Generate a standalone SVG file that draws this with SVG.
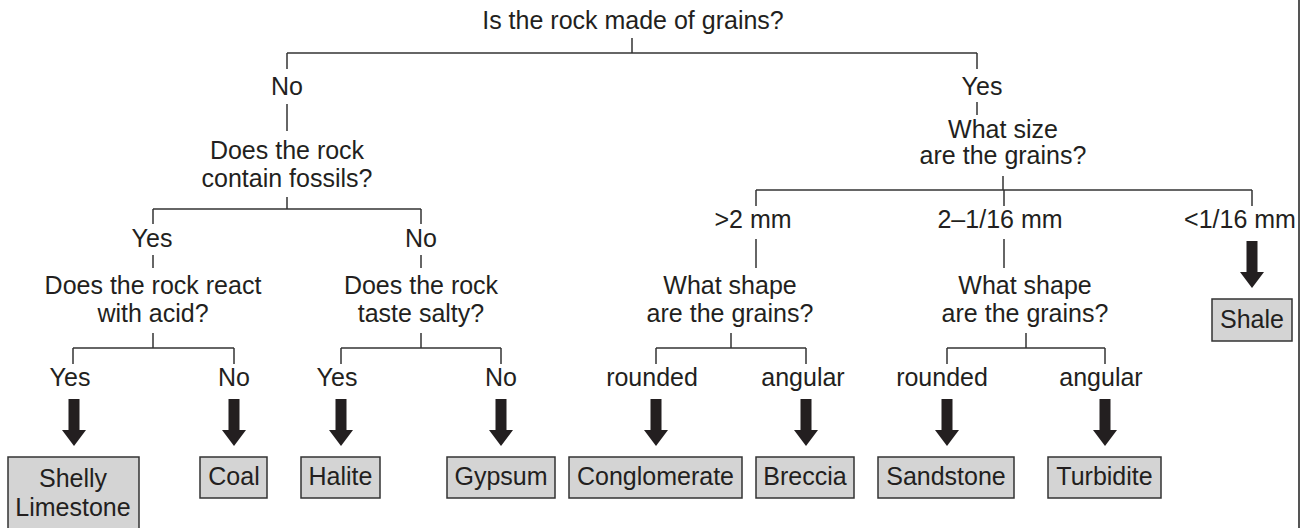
<svg xmlns="http://www.w3.org/2000/svg" width="1306" height="528" viewBox="0 0 1306 528">
<style>
text{font-family:"Liberation Sans",Arial,sans-serif;font-size:25px;fill:#231f20;text-anchor:middle}
.c line{stroke:#333;stroke-width:1.5;fill:none}
.box{fill:#d4d4d4;stroke:#333;stroke-width:1.5}
.arr{fill:#231f20}
</style>
<defs>
<path id="a" d="M-5.5,0 H5.5 V31 H12 L0,47 L-12,31 H-5.5 Z"/>
</defs>
<rect width="1306" height="528" fill="#fff"/>
<line x1="1299" y1="0" x2="1299" y2="528" stroke="#555" stroke-width="2"/>
<g id="connectors" class="c">
<line x1="632" y1="38" x2="632" y2="53"/>
<line x1="287" y1="53" x2="977" y2="53"/>
<line x1="287" y1="53" x2="287" y2="69"/>
<line x1="977" y1="53" x2="977" y2="69"/>
<line x1="287" y1="104" x2="287" y2="131"/>
<line x1="287" y1="197" x2="287" y2="209"/>
<line x1="153" y1="209" x2="421" y2="209"/>
<line x1="153" y1="209" x2="153" y2="224"/>
<line x1="421" y1="209" x2="421" y2="224"/>
<line x1="153" y1="255" x2="153" y2="268"/>
<line x1="421" y1="255" x2="421" y2="268"/>
<line x1="153" y1="333" x2="153" y2="348"/>
<line x1="421" y1="333" x2="421" y2="348"/>
<line x1="73" y1="348" x2="234" y2="348"/>
<line x1="341" y1="348" x2="501" y2="348"/>
<line x1="73" y1="348" x2="73" y2="364"/>
<line x1="234" y1="348" x2="234" y2="364"/>
<line x1="341" y1="348" x2="341" y2="364"/>
<line x1="501" y1="348" x2="501" y2="364"/>
<line x1="977" y1="102" x2="977" y2="115"/>
<line x1="1003" y1="176" x2="1003" y2="190"/>
<line x1="756" y1="190" x2="1252" y2="190"/>
<line x1="756" y1="190" x2="756" y2="206"/>
<line x1="1004" y1="190" x2="1004" y2="206"/>
<line x1="1252" y1="190" x2="1252" y2="206"/>
<line x1="756" y1="239" x2="756" y2="268"/>
<line x1="1004" y1="239" x2="1004" y2="268"/>
<line x1="731" y1="333" x2="731" y2="348"/>
<line x1="1026" y1="333" x2="1026" y2="348"/>
<line x1="656" y1="348" x2="806" y2="348"/>
<line x1="947" y1="348" x2="1105" y2="348"/>
<line x1="656" y1="348" x2="656" y2="364"/>
<line x1="806" y1="348" x2="806" y2="364"/>
<line x1="947" y1="348" x2="947" y2="364"/>
<line x1="1105" y1="348" x2="1105" y2="364"/>
<g class="arr">
<use href="#a" x="74" y="399"/>
<use href="#a" x="234" y="399"/>
<use href="#a" x="341" y="399"/>
<use href="#a" x="501" y="399"/>
<use href="#a" x="656" y="399"/>
<use href="#a" x="806" y="399"/>
<use href="#a" x="947" y="399"/>
<use href="#a" x="1105" y="399"/>
<use href="#a" x="1252" y="241"/>
</g>
</g>
<g id="q-grains"><text x="633" y="29">Is the rock made of grains?</text></g>
<g id="l-no"><text x="287" y="95">No</text></g>
<g id="l-yes"><text x="982" y="95">Yes</text></g>
<g id="q-fossils"><text x="287" y="159">Does the rock</text><text x="287" y="187">contain fossils?</text></g>
<g id="q-size"><text x="1003" y="138">What size</text><text x="1003" y="164">are the grains?</text></g>
<g id="l-fyes"><text x="152" y="247">Yes</text></g>
<g id="l-fno"><text x="421" y="247">No</text></g>
<g id="q-acid"><text x="153" y="294">Does the rock react</text><text x="153" y="322">with acid?</text></g>
<g id="q-salty"><text x="421" y="294">Does the rock</text><text x="421" y="322">taste salty?</text></g>
<g id="l-gt2"><text x="753" y="228">&gt;2 mm</text></g>
<g id="l-mid"><text x="1000" y="228">2–1/16 mm</text></g>
<g id="l-lt"><text x="1240" y="228">&lt;1/16 mm</text></g>
<g id="q-shape1"><text x="730" y="294">What shape</text><text x="730" y="322">are the grains?</text></g>
<g id="q-shape2"><text x="1025" y="294">What shape</text><text x="1025" y="322">are the grains?</text></g>
<g id="l-ayes"><text x="70" y="386">Yes</text></g>
<g id="l-ano"><text x="234" y="386">No</text></g>
<g id="l-syes"><text x="337" y="386">Yes</text></g>
<g id="l-sno"><text x="501" y="386">No</text></g>
<g id="l-r1"><text x="652" y="386">rounded</text></g>
<g id="l-a1"><text x="803" y="386">angular</text></g>
<g id="l-r2"><text x="942" y="386">rounded</text></g>
<g id="l-a2"><text x="1101" y="386">angular</text></g>
<g id="n-shelly"><rect class="box" x="8" y="457" width="131" height="85"/><text x="73" y="487">Shelly</text><text x="73" y="516">Limestone</text></g>
<g id="n-coal"><rect class="box" x="200" y="457" width="67" height="41"/><text x="234" y="485">Coal</text></g>
<g id="n-halite"><rect class="box" x="301" y="457" width="79" height="41"/><text x="340.5" y="485">Halite</text></g>
<g id="n-gypsum"><rect class="box" x="447" y="457" width="108" height="41"/><text x="501" y="485">Gypsum</text></g>
<g id="n-conglomerate"><rect class="box" x="569" y="457" width="173" height="41"/><text x="655.5" y="485">Conglomerate</text></g>
<g id="n-breccia"><rect class="box" x="756" y="457" width="98" height="41"/><text x="805" y="485">Breccia</text></g>
<g id="n-sandstone"><rect class="box" x="878" y="457" width="136" height="41"/><text x="946" y="485">Sandstone</text></g>
<g id="n-turbidite"><rect class="box" x="1048" y="457" width="113" height="41"/><text x="1104.5" y="485">Turbidite</text></g>
<g id="n-shale"><rect class="box" x="1212" y="299" width="80" height="42"/><text x="1252" y="328">Shale</text></g>
</svg>
